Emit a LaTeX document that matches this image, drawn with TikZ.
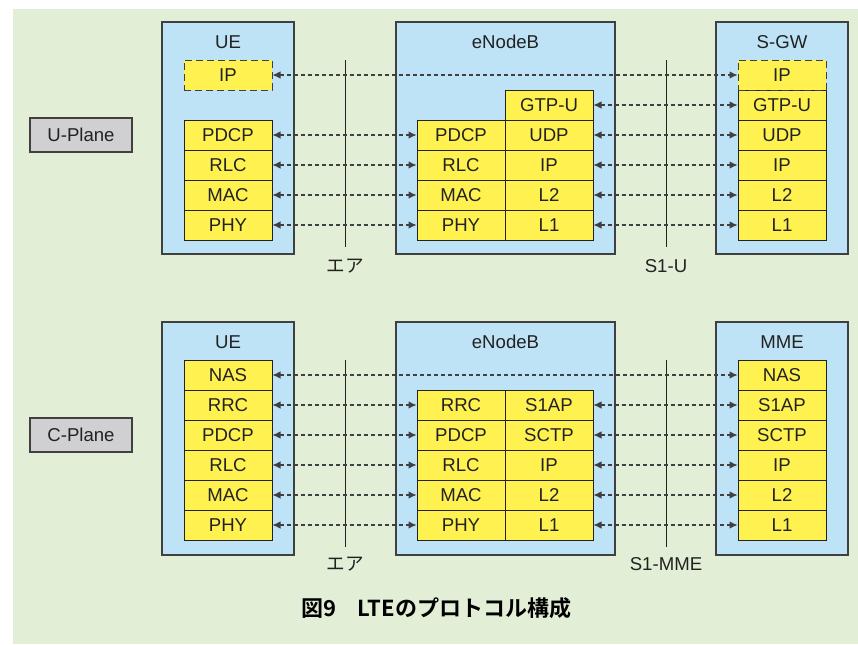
\documentclass[tikz,border=0pt]{standalone}
\usepackage{fontspec}
\setmainfont{Liberation Sans}
\newfontfamily\jpfont{Noto Sans CJK JP}[BoldFont={Noto Sans CJK JP Bold}]
\usepackage{tikz}
\usetikzlibrary{arrows.meta}
\definecolor{mybg}{RGB}{226,238,213}
\definecolor{mybox}{RGB}{190,227,246}
\definecolor{mylayer}{RGB}{255,242,80}
\definecolor{mybutton}{RGB}{208,208,211}
\definecolor{myline}{RGB}{64,64,64}
\definecolor{mytext}{RGB}{34,34,34}

\tikzset{
  entity/.style={draw=myline,fill=mybox,line width=0.6pt,inner sep=0pt},
  layer/.style={draw=mytext,fill=mylayer,line width=0.5pt,minimum width=44pt,
    minimum height=15pt,inner sep=0pt,text=mytext,font=\fontsize{9.3}{10}\selectfont},
  iplayer/.style={layer,draw=myline,dash pattern=on 3.5pt off 2pt},
  title/.style={text=mytext,font=\fontsize{9.3}{10}\selectfont,inner sep=1pt},
  plane/.style={draw=myline,fill=mybutton,line width=0.6pt,minimum width=51pt,
    minimum height=17pt,inner sep=0pt,text=mytext,font=\fontsize{9.3}{10}\selectfont},
  link/.style={myline,line width=0.55pt,dash pattern=on 2pt off 1.5pt,
    {Latex[length=4pt,width=3.8pt]}-{Latex[length=4pt,width=3.8pt]}},
  iface/.style={mytext,line width=0.5pt},
}

\begin{document}
\begin{tikzpicture}[x=0.5pt,y=-0.5pt]
  \useasboundingbox (0,0) rectangle (858,644);
  \fill[mybg] (13,9) rectangle (858,644);

  % U-Plane
  \node[plane] (uplane) at (81,135) {U-Plane};
  \node[entity,minimum width=66pt,minimum height=116pt] (ueu) at (228,138) {};
  \node[entity,minimum width=109.5pt,minimum height=116pt] (enbu) at (505.5,138) {};
  \node[entity,minimum width=66pt,minimum height=116pt] (sgw) at (782,138) {};
  \node[title] (ueu-t) at (228,42) {UE};
  \node[title] (enbu-t) at (505.5,42) {eNodeB};
  \node[title] (sgw-t) at (782,42) {S-GW};

  \coordinate (airu-a) at (345,60);  \coordinate (airu-b) at (345,247);
  \coordinate (s1u-a) at (666,60);   \coordinate (s1u-b) at (666,247);
  \draw[iface] (airu-a) -- (airu-b);
  \draw[iface] (s1u-a) -- (s1u-b);
  \node[title,font=\jpfont\fontsize{9.3}{10}\selectfont] (airu) at (345,266) {エア};
  \node[title] (s1u) at (666,266) {S1-U};

  \foreach \n/\t/\y in {pdcp/PDCP/135,rlc/RLC/165,mac/MAC/195,phy/PHY/225} {
    \node[layer] (ueu-\n) at (228,\y) {\t};
    \node[layer] (enbu-\n) at (461,\y) {\t};}
  \foreach \n/\t/\y in {gtp/GTP-U/105,udp/UDP/135,ip/IP/165,ltwo/L2/195,lone/L1/225} {
    \node[layer] (enbr-\n) at (549,\y) {\t};
    \node[layer] (sgw-\n) at (782,\y) {\t};}
  \node[iplayer] (ueu-ip) at (228,75) {IP};
  \node[iplayer] (sgw-app) at (782,75) {IP};

  \draw[link] (ueu-ip) -- (sgw-app);
  \foreach \n in {pdcp,rlc,mac,phy}
    \draw[link] (ueu-\n) -- (enbu-\n);
  \foreach \n in {gtp,udp,ip,ltwo,lone}
    \draw[link] (enbr-\n) -- (sgw-\n);

  % C-Plane
  \node[plane] (cplane) at (81,435) {C-Plane};
  \node[entity,minimum width=66pt,minimum height=116.5pt] (uec) at (228,438.5) {};
  \node[entity,minimum width=109.5pt,minimum height=116.5pt] (enbc) at (505.5,438.5) {};
  \node[entity,minimum width=66pt,minimum height=116.5pt] (mme) at (782,438.5) {};
  \node[title] (uec-t) at (228,342) {UE};
  \node[title] (enbc-t) at (505.5,342) {eNodeB};
  \node[title] (mme-t) at (782,342) {MME};

  \coordinate (airc-a) at (345,360); \coordinate (airc-b) at (345,547);
  \coordinate (s1m-a) at (666,360);  \coordinate (s1m-b) at (666,547);
  \draw[iface] (airc-a) -- (airc-b);
  \draw[iface] (s1m-a) -- (s1m-b);
  \node[title,font=\jpfont\fontsize{9.3}{10}\selectfont] (airc) at (345,564) {エア};
  \node[title] (s1m) at (666,564) {S1-MME};

  \node[layer] (uec-nas) at (228,375) {NAS};
  \node[layer] (mme-nas) at (782,375) {NAS};
  \foreach \n/\t/\y in {rrc/RRC/405,pdcp/PDCP/435,rlc/RLC/465,mac/MAC/495,phy/PHY/525} {
    \node[layer] (uec-\n) at (228,\y) {\t};
    \node[layer] (enbc-\n) at (461,\y) {\t};}
  \foreach \n/\t/\y in {sap/S1AP/405,sctp/SCTP/435,ip/IP/465,ltwo/L2/495,lone/L1/525} {
    \node[layer] (enbs-\n) at (549,\y) {\t};
    \node[layer] (mme-\n) at (782,\y) {\t};}

  \draw[link] (uec-nas) -- (mme-nas);
  \foreach \n in {rrc,pdcp,rlc,mac,phy}
    \draw[link] (uec-\n) -- (enbc-\n);
  \foreach \n in {sap,sctp,ip,ltwo,lone}
    \draw[link] (enbs-\n) -- (mme-\n);

  \node[text=black,font=\jpfont\bfseries\fontsize{11}{12}\selectfont] (caption) at (436,608) {図9\quad LTEのプロトコル構成};
\end{tikzpicture}
\end{document}
